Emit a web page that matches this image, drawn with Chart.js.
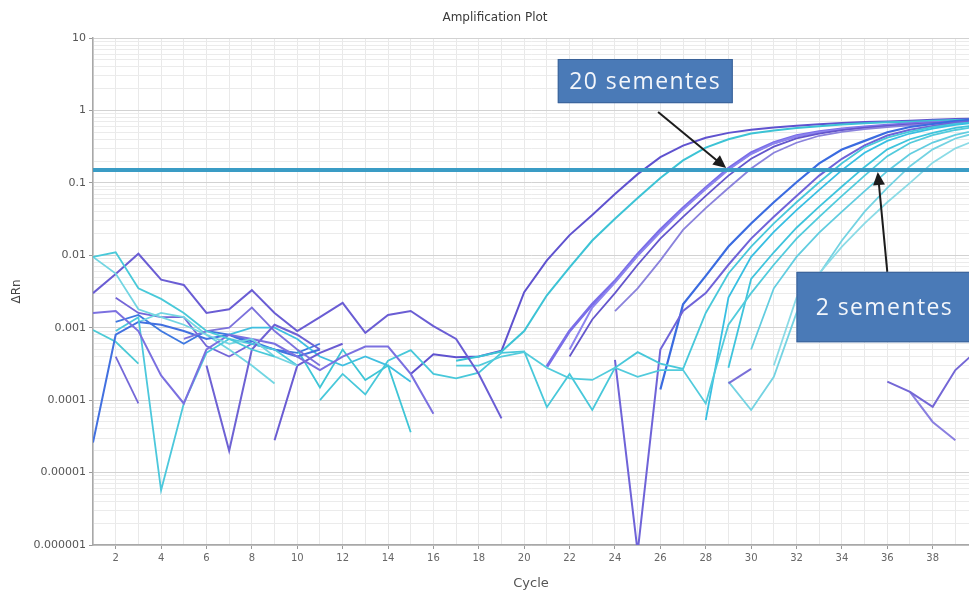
<!DOCTYPE html>
<html>
<head>
<meta charset="utf-8">
<title>Amplification Plot</title>
<script src="https://cdn.jsdelivr.net/npm/chart.js@4.4.1/dist/chart.umd.min.js"></script>
<style>
  html, body { margin: 0; padding: 0; background: #ffffff; overflow: hidden; }
  #wrap { width: 969px; height: 594px; position: relative; }
</style>
</head>
<body>
<div id="wrap"><canvas id="plot" width="969" height="594"></canvas></div>
<script>
const _ = null;

// Cycle numbers (x categories) and axis tick labels
const cycles = [1,2,3,4,5,6,7,8,9,10,11,12,13,14,15,16,17,18,19,20,21,22,23,24,25,26,27,28,29,30,31,32,33,34,35,36,37,38,39,40];
const cycleTicks = [2,4,6,8,10,12,14,16,18,20,22,24,26,28,30,32,34,36,38];
const yTickValues = [0.000001, 0.00001, 0.0001, 0.001, 0.01, 0.1, 1, 10];
const yTickLabels = ['0.000001', '0.00001', '0.0001', '0.001', '0.01', '0.1', '1', '10'];
const threshold = 0.15;

// ΔRn per cycle, one array per well (null = no value plotted)
// 20 sementes
const e1 = [
  _,_,_,_,_,_,_,_,_,_,
  _,_,_,_, 0.00023, 0.00043, 0.00039, 0.0004, 0.00048, 0.0031,
  0.0085, 0.019, 0.036, 0.070, 0.132, 0.226, 0.327, 0.42, 0.49, 0.54,
  0.58, 0.614, 0.645, 0.67, 0.69, 0.705, 0.72, 0.745, 0.76, 0.77
];
const e2 = [
  _,_,_,_,_,_,_,_,_,_,
  _,_,_,_,_,_, 0.00035, 0.0004, 0.00047, 0.0009,
  0.0028, 0.0068, 0.016, 0.032, 0.062, 0.117, 0.204, 0.306, 0.40, 0.48,
  0.53, 0.573, 0.607, 0.638, 0.665, 0.685, 0.70, 0.72, 0.74, 0.75
];
const e3 = [
  _,_,_,_,_,_,_,_,_,_,
  _,_,_,_,_,_,_,_,_,_,
  0.00029, 0.0009, 0.0021, 0.0044, 0.0103, 0.0224, 0.0447, 0.085, 0.158, 0.26,
  0.358, 0.447, 0.506, 0.553, 0.59, 0.622, 0.653, 0.678, 0.693, 0.70
];
const e3b = [
  _,_,_,_,_,_,_,_,_,_,
  _,_,_,_,_,_,_,_,_,_,
  _, 0.0005, 0.0019, 0.0042, 0.0098, 0.021, 0.043, 0.082, 0.152, 0.25,
  0.35, 0.44, 0.50, 0.55, 0.585, 0.615, 0.645, 0.67, 0.69, 0.70
];
const e4 = [
  _,_,_,_,_,_,_,_,_,_,
  _,_,_,_,_,_,_,_,_,_,
  _, 0.0004, 0.0013, 0.003, 0.0074, 0.017, 0.034, 0.066, 0.126, 0.215,
  0.316, 0.41, 0.48, 0.535, 0.577, 0.61, 0.643, 0.668, 0.687, 0.70
];
const e5 = [
  _,_,_,_,_,_,_,_,_,_,
  _,_,_,_,_,_,_,_,_,_,
  _,_,_, 0.0017, 0.0035, 0.0085, 0.0224, 0.0447, 0.085, 0.158,
  0.26, 0.358, 0.447, 0.506, 0.553, 0.59, 0.622, 0.653, 0.678, 0.69
];

// 2 sementes
const l1 = [
  _,_,_,_,_,_,_,_,_,_,
  _,_,_,_,_,_,_,_,_,_,
  _,_,_,_,_, 0.00014, 0.0021, 0.0052, 0.0132, 0.0275,
  0.054, 0.102, 0.186, 0.288, 0.38, 0.50, 0.59, 0.65, 0.71, 0.76
];
const l2 = [
  _,_,_,_,_,_,_,_,_,_,
  _,_,_,_,_,_,_,_,_,_,
  _,_,_, 0.00036, 0.0000008, 0.0005, 0.0017, 0.003, 0.0074, 0.017,
  0.034, 0.066, 0.126, 0.215, 0.33, 0.45, 0.54, 0.61, 0.68, 0.72
];
const l3 = [
  _,_,_,_,_,_,_,_,_,_,
  _,_,_,_,_,_,_,_,_,_,
  _,_,_,_,_,_,_, 0.000053, 0.0026, 0.0095,
  0.021, 0.042, 0.08, 0.15, 0.26, 0.38, 0.48, 0.56, 0.63, 0.69
];
const l4 = [
  _,_,_,_,_,_,_,_,_,_,
  0.0001, 0.00023, 0.00012, 0.00035, 0.00049, 0.00023, 0.0002, 0.00024, 0.00045, 0.00047,
  0.00008, 0.00023, 0.000073, 0.00028, 0.00046, 0.00032, 0.00027, 0.0016, 0.0056, 0.0132,
  0.0275, 0.054, 0.102, 0.186, 0.31, 0.42, 0.51, 0.59, 0.65, 0.70
];
const l5 = [
  _,_,_,_,_,_,_,_,_,_,
  _,_,_,_,_,_,_,_,_,_,
  _,_,_,_,_,_,_,_, 0.00028, 0.0047,
  0.011, 0.024, 0.047, 0.089, 0.166, 0.29, 0.40, 0.49, 0.575, 0.63
];
const l6 = [
  _,_,_,_,_,_,_,_,_,_,
  _,_,_,_,_,_, 0.0003, 0.0003, 0.0004, 0.00046,
  0.00028, 0.0002, 0.00019, 0.00028, 0.00021, 0.00026, 0.00026, 0.00009, 0.0011, 0.003,
  0.0074, 0.017, 0.034, 0.066, 0.126, 0.234, 0.355, 0.457, 0.537, 0.60
];
const l7 = [
  _,_,_,_,_,_,_,_,_,_,
  _,_,_,_,_,_,_,_,_,_,
  _,_,_,_,_,_,_,_, 0.00018, 0.000073,
  0.00021, 0.0016, 0.0055, 0.016, 0.04, 0.085, 0.17, 0.29, 0.41, 0.50
];
const l8 = [
  _,_,_,_,_,_,_,_,_,_,
  _,_,_,_,_,_,_,_,_,_,
  _,_,_,_,_,_,_,_,_,_,
  0.0003, 0.0026, 0.0056, 0.0132, 0.0275, 0.054, 0.10, 0.19, 0.30, 0.40
];
const l9 = [
  _,_,_,_,_,_,_,_,_,_,
  _,_,_,_,_,_,_,_,_,_,
  _,_,_,_,_,_,_,_,_, 0.0005,
  0.0035, 0.0095, 0.0205, 0.04, 0.077, 0.145, 0.25, 0.36, 0.46, 0.54
];

// short late fragments
const s1 = [
  _,_,_,_,_,_,_,_,_,_,
  _,_,_,_,_,_,_,_,_,_,
  _,_,_,_,_,_,_,_, 0.00017, 0.00027,
  _,_,_,_,_,_,_,_,_,_
];
const r1 = [
  _,_,_,_,_,_,_,_,_,_,
  _,_,_,_,_,_,_,_,_,_,
  _,_,_,_,_,_,_,_,_,_,
  _,_,_,_,_, 0.00018, 0.00013, 0.000081, 0.00026, 0.0005
];
const r2 = [
  _,_,_,_,_,_,_,_,_,_,
  _,_,_,_,_,_,_,_,_,_,
  _,_,_,_,_,_,_,_,_,_,
  _,_,_,_,_,_, 0.00013, 0.00005, 0.000028, _
];

// early-cycle background
const b1 = [0.0095, 0.011, 0.0035, 0.0025, 0.0016, 0.0009, 0.0007, 0.0005, 0.0004, _,
  _,_,_,_,_,_,_,_,_,_, _,_,_,_,_,_,_,_,_,_, _,_,_,_,_,_,_,_,_,_];
const b2 = [0.0095, 0.0056, 0.0018, 0.0014, 0.0011, 0.0008, 0.0006, 0.0007, 0.0004, 0.0003,
  _,_,_,_,_,_,_,_,_,_, _,_,_,_,_,_,_,_,_,_, _,_,_,_,_,_,_,_,_,_];
const b3 = [0.003, 0.0055, 0.0105, 0.0046, 0.0039, 0.0016, 0.0018, 0.0033, 0.0016, 0.0009,
  0.0014, 0.0022, 0.00085, 0.0015, 0.0017, 0.00105, 0.0007, 0.00023, 0.000056, _,
  _,_,_,_,_,_,_,_,_,_, _,_,_,_,_,_,_,_,_,_];
const b4 = [0.0016, 0.0017, 0.0009, 0.00022, 0.00009, 0.0005, 0.0008, 0.0007, 0.0006, 0.0004,
  0.00026, 0.0004, 0.00055, 0.00055, 0.00023, 0.000065, _,_,_,_,
  _,_,_,_,_,_,_,_,_,_, _,_,_,_,_,_,_,_,_,_];
const b5 = [_,_,_,_,_, 0.0003, 0.00002, 0.0005, 0.0011, 0.0008,
  0.0005, _,_,_,_,_,_,_,_,_, _,_,_,_,_,_,_,_,_,_, _,_,_,_,_,_,_,_,_,_];
const b6 = [_,_,_,_, 0.0007, 0.0009, 0.001, 0.0019, 0.0009, 0.0005,
  0.0003, _,_,_,_,_,_,_,_,_, _,_,_,_,_,_,_,_,_,_, _,_,_,_,_,_,_,_,_,_];
const b7 = [_,_,_,_,_,_,_,_, 0.000028, 0.0003,
  0.00045, 0.0006, _,_,_,_,_,_,_,_, _,_,_,_,_,_,_,_,_,_, _,_,_,_,_,_,_,_,_,_];
const b8 = [_, 0.0009, 0.0014, 0.0000057, 0.00009, 0.00045, 0.0007, 0.0006, 0.0005, 0.0003,
  _,_,_,_,_,_,_,_,_,_, _,_,_,_,_,_,_,_,_,_, _,_,_,_,_,_,_,_,_,_];
const b9 = [_, 0.0004, 0.00009, _,_,_,_,_,_,_,
  _,_,_,_,_,_,_,_,_,_, _,_,_,_,_,_,_,_,_,_, _,_,_,_,_,_,_,_,_,_];
const b10 = [0.000026, 0.0008, 0.0012, 0.0011, 0.0009, 0.0007, 0.0008, 0.0006, 0.0005, 0.0004,
  0.0005, _,_,_,_,_,_,_,_,_, _,_,_,_,_,_,_,_,_,_, _,_,_,_,_,_,_,_,_,_];
const b11 = [_,_,_,_,_,_,_,_,_, 0.0005,
  0.00015, 0.0005, 0.00019, 0.0003, 0.000036, _,_,_,_,_,
  _,_,_,_,_,_,_,_,_,_, _,_,_,_,_,_,_,_,_,_];
const b12 = [0.00093, 0.00064, 0.00032, _,_,_,_,_,_,_,
  _,_,_,_,_,_,_,_,_,_, _,_,_,_,_,_,_,_,_,_, _,_,_,_,_,_,_,_,_,_];
const b13 = [_,_, 0.0012, 0.0016, 0.0014, 0.0008, 0.0005, 0.0003, 0.00017, _,
  _,_,_,_,_,_,_,_,_,_, _,_,_,_,_,_,_,_,_,_, _,_,_,_,_,_,_,_,_,_];
const b14 = [_,_,_,_,_,_, 0.0008, 0.001, 0.001, 0.0007,
  0.0004, 0.0003, 0.0004, 0.0003, 0.00018, _,_,_,_,_,
  _,_,_,_,_,_,_,_,_,_, _,_,_,_,_,_,_,_,_,_];
const b15 = [_, 0.0012, 0.0015, 0.0009, 0.0006, 0.0009, 0.0008, 0.00065, 0.0005, 0.00045,
  0.0006, _,_,_,_,_,_,_,_,_, _,_,_,_,_,_,_,_,_,_, _,_,_,_,_,_,_,_,_,_];
const b16 = [_, 0.0026, 0.0016, 0.0014, 0.0014, 0.00056, 0.0004, 0.0006, _,_,
  _,_,_,_,_,_,_,_,_,_, _,_,_,_,_,_,_,_,_,_, _,_,_,_,_,_,_,_,_,_];

// styling per well: [values, colour, width]
const wells = [
  [b1, '#49c9d9', 1.8], [b2, '#73d5e2', 1.8], [b3, '#6a5dd4', 2], [b4, '#7b70e0', 2],
  [b5, '#6e62d4', 2], [b6, '#7c72dc', 1.8], [b7, '#6a5cd3', 2], [b8, '#4cc8dc', 1.8],
  [b9, '#7468d8', 1.8], [b10, '#4270e0', 2], [b11, '#3ec5d6', 1.8], [b12, '#4ccad6', 1.8],
  [b13, '#72d6e2', 1.8], [b14, '#40bfe0', 1.8], [b15, '#3e78e0', 1.8], [b16, '#7466d8', 1.8],
  [s1, '#7a70d8', 2], [r1, '#7467d6', 2], [r2, '#8a7fe0', 2],
  [l8, '#8bdbe6', 1.8], [l7, '#74d3e2', 1.8], [l9, '#62cde0', 1.8], [l6, '#52cbdc', 1.8],
  [l5, '#3fc4dc', 1.8], [l3, '#38bfe2', 1.8], [l4, '#48c8da', 1.8], [l2, '#6f63d8', 2],
  [l1, '#3a6be0', 2.2],
  [e5, '#8a82dc', 1.8], [e4, '#6456cc', 1.8], [e3b, '#8d84ee', 2], [e3, '#7a6ee8', 3],
  [e2, '#3cc3d5', 2], [e1, '#5f52cf', 2]
];

const datasets = wells.map(([values, color, width]) => ({
  data: values,
  borderColor: color,
  borderWidth: width,
  pointRadius: 0,
  tension: 0,
  spanGaps: false,
  order: 2
}));
datasets.push({
  data: [{x: cycles[0], y: threshold}, {x: cycles[cycles.length - 1], y: threshold}],
  borderColor: '#3a9cc5',
  borderWidth: 4,
  pointRadius: 0,
  order: 0
});

// x grid at every cycle, y grid at every 1..9 step of each decade
const gridCycles = cycles.filter(c => c < 39.6);
const yGrid = [];
yTickValues.slice(0, -1).forEach(d => { for (let k = 1; k < 10; k++) yGrid.push(d * k); });
yGrid.push(yTickValues[yTickValues.length - 1]);
const isDecade = v => Math.abs(Math.log10(v) - Math.round(Math.log10(v))) < 1e-9;

// call-out boxes with arrows, placed in data units
const callouts = [
  { text: '20 sementes', x0: 21.48, x1: 29.19, yTop: 5.13, yBottom: 1.26,
    from: [25.9, 0.95], to: [28.9, 0.16] },
  { text: '2 sementes', x0: 32.0, x1: 39.75, yTop: 0.0059, yBottom: 0.00063,
    from: [36.0, 0.0059], to: [35.58, 0.141] }
];

const calloutPlugin = {
  id: 'callouts',
  afterDraw(chart) {
    const { ctx, scales: { x, y } } = chart;
    ctx.save();
    // title
    ctx.fillStyle = '#3a3a3a';
    ctx.font = '12px "DejaVu Sans", sans-serif';
    ctx.textAlign = 'center';
    ctx.textBaseline = 'middle';
    ctx.fillText('Amplification Plot', 495, 18);

    callouts.forEach(c => {
      // arrow
      const fx = x.getPixelForValue(c.from[0]), fy = y.getPixelForValue(c.from[1]);
      const tx = x.getPixelForValue(c.to[0]), ty = y.getPixelForValue(c.to[1]);
      const ang = Math.atan2(ty - fy, tx - fx);
      const head = 13, half = 6;
      ctx.strokeStyle = '#1c1c1c';
      ctx.fillStyle = '#1c1c1c';
      ctx.lineWidth = 2;
      ctx.beginPath();
      ctx.moveTo(fx, fy);
      ctx.lineTo(tx - Math.cos(ang) * head * 0.8, ty - Math.sin(ang) * head * 0.8);
      ctx.stroke();
      ctx.beginPath();
      ctx.moveTo(tx, ty);
      ctx.lineTo(tx - Math.cos(ang) * head - Math.sin(ang) * half, ty - Math.sin(ang) * head + Math.cos(ang) * half);
      ctx.lineTo(tx - Math.cos(ang) * head + Math.sin(ang) * half, ty - Math.sin(ang) * head - Math.cos(ang) * half);
      ctx.closePath();
      ctx.fill();

      // box
      const bx0 = x.getPixelForValue(c.x0), bx1 = x.getPixelForValue(c.x1);
      const by0 = y.getPixelForValue(c.yTop), by1 = y.getPixelForValue(c.yBottom);
      ctx.fillStyle = '#4a7ab7';
      ctx.fillRect(bx0, by0, bx1 - bx0, by1 - by0);
      ctx.strokeStyle = '#3b6399';
      ctx.lineWidth = 1;
      ctx.strokeRect(bx0 + 0.5, by0 + 0.5, bx1 - bx0 - 1, by1 - by0 - 1);

      // label
      ctx.fillStyle = '#f3f6fb';
      ctx.font = '23px "Open Sans", sans-serif';
      if ('letterSpacing' in ctx) ctx.letterSpacing = '1.4px';
      ctx.textAlign = 'center';
      ctx.textBaseline = 'middle';
      ctx.fillText(c.text, (bx0 + bx1) / 2, (by0 + by1) / 2 + 1);
      if ('letterSpacing' in ctx) ctx.letterSpacing = '0px';
    });
    ctx.restore();
  }
};

Chart.defaults.font.family = '"DejaVu Sans", sans-serif';

new Chart(document.getElementById('plot'), {
  type: 'line',
  data: { labels: cycles, datasets },
  plugins: [calloutPlugin],
  options: {
    responsive: false,
    animation: false,
    layout: { padding: { top: 38, left: 0, right: 0, bottom: 0 } },
    plugins: { legend: { display: false }, tooltip: { enabled: false }, title: { display: false } },
    scales: {
      x: {
        type: 'linear',
        min: 1,
        max: 39.6,
        afterBuildTicks: s => { s.ticks = gridCycles.map(v => ({ value: v })); },
        afterFit: s => { s.height = 49; },
        ticks: {
          autoSkip: false,
          maxRotation: 0,
          padding: 3,
          color: '#666',
          font: { size: 10 },
          callback: v => cycleTicks.includes(v) ? String(v) : ''
        },
        grid: {
          color: '#e9e9e9',
          tickLength: 4,
          tickColor: ctx => (ctx.tick && cycleTicks.includes(ctx.tick.value)) ? '#9a9a9a' : 'rgba(0,0,0,0)'
        },
        border: { color: '#a8a8a8', width: 1.5 },
        title: { display: true, text: 'Cycle', color: '#555', font: { size: 13 }, padding: { top: 0, bottom: 3 } }
      },
      y: {
        type: 'logarithmic',
        min: yTickValues[0],
        max: yTickValues[yTickValues.length - 1],
        afterBuildTicks: s => { s.ticks = yGrid.map(v => ({ value: v, major: isDecade(v) })); },
        afterFit: s => { s.width = 93; },
        ticks: {
          autoSkip: false,
          padding: 3,
          color: '#555',
          font: { size: 11 },
          callback: v => {
            const i = yTickValues.findIndex(t => Math.abs(Math.log10(t) - Math.log10(v)) < 1e-9);
            return i >= 0 ? yTickLabels[i] : '';
          }
        },
        grid: {
          color: ctx => (ctx.tick && isDecade(ctx.tick.value)) ? '#d2d2d2' : '#ebebeb',
          tickLength: 4,
          tickColor: ctx => (ctx.tick && isDecade(ctx.tick.value)) ? '#9a9a9a' : 'rgba(0,0,0,0)'
        },
        border: { color: '#a8a8a8', width: 1.5 },
        title: { display: true, text: 'ΔRn', color: '#444', font: { size: 12 }, padding: { top: 10, bottom: 0 } }
      }
    }
  }
});
</script>
</body>
</html>
